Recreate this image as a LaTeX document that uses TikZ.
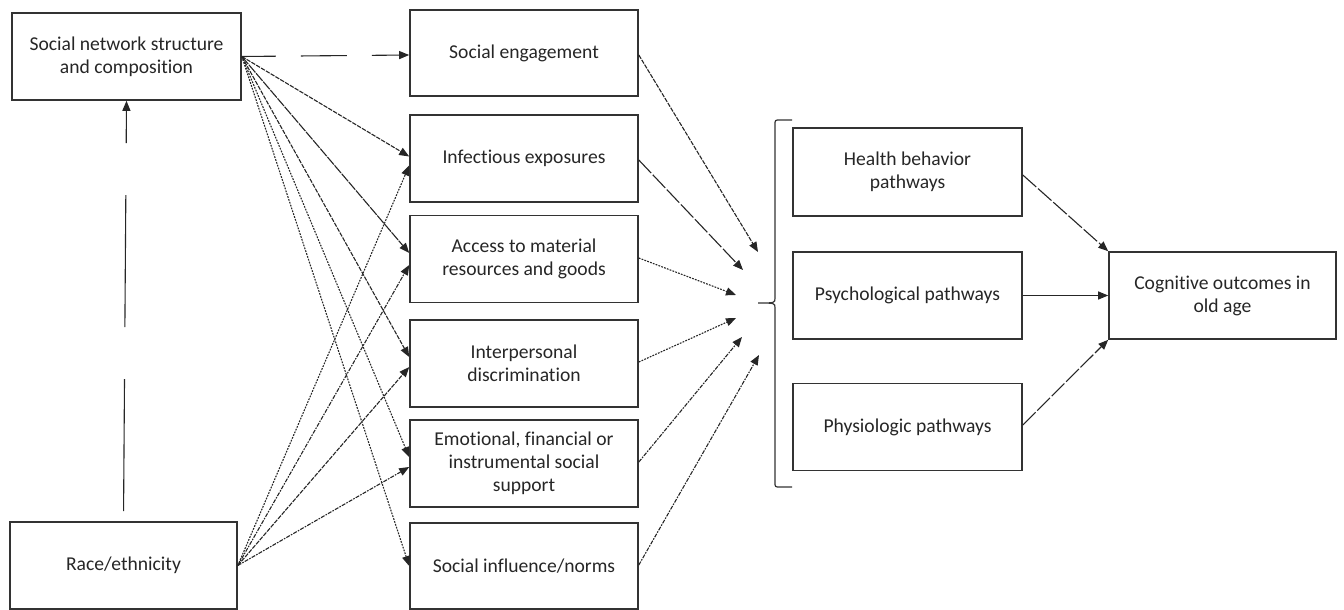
\documentclass[tikz,border=0pt]{standalone}
\usepackage{fontspec}
\setmainfont{Carlito}[Ligatures={NoCommon}]
\usetikzlibrary{arrows.meta,calc}
\begin{document}
\begin{tikzpicture}[x=0.5pt,y=-0.5pt,
  box/.style={draw=black!80,line width=0.8pt,minimum height=43.5pt,align=center,inner sep=2pt,
    font=\fontsize{9.8}{11.5}\selectfont,text=black!85},
  conn/.style={-{Triangle[length=5pt,width=4pt]},line width=0.55pt,draw=black!85},
  fdash/.style={dash pattern=on 2.2pt off 0.6pt},
  fdot/.style={dash pattern=on 0.9pt off 0.6pt},
  ddot/.style={dash pattern=on 2pt off 0.6pt on 0.8pt off 0.6pt},
  ldash/.style={dash pattern=on 9pt off 1.2pt},
]
\useasboundingbox (0,0) rectangle (1344,610);
% left
\node[box,minimum width=114.5pt] (sn) at (126.5,56.5) {Social network structure\\and composition};
\node[box,minimum width=113.5pt] (race) at (123.5,565.5) {Race/ethnicity};
% middle
\node[box,minimum width=114pt,minimum height=43pt] (se) at (524,53) {Social engagement};
\node[box,minimum width=114pt] (ie) at (524,158.5) {Infectious exposures};
\node[box,minimum width=114pt] (am) at (524,259) {Access to material\\resources and goods};
\node[box,minimum width=114pt] (id) at (524,363.5) {Interpersonal\\discrimination};
\node[box,minimum width=114pt] (em) at (524,463.5) {Emotional, financial or\\instrumental social\\support};
\node[box,minimum width=114pt,minimum height=43pt] (si) at (524,566) {Social influence/norms};
% right
\node[box,minimum width=114.5pt,minimum height=44pt] (hb) at (907.5,172) {Health behavior\\pathways};
\node[box,minimum width=114.5pt] (pp) at (907.5,295.5) {Psychological pathways};
\node[box,minimum width=114.5pt] (ph) at (907.5,427) {Physiologic pathways};
\node[box,minimum width=113.5pt] (cog) at (1222.5,295.5) {Cognitive outcomes in\\old age};

% brace
\coordinate (btip) at (758,303);
\draw[line width=0.6pt,black!80] (792,120) -- (780,120) .. controls (775,120) .. (775,125) -- (775,298)
  .. controls (775,303) .. (btip) .. controls (775,303) .. (775,308) -- (775,482)
  .. controls (775,487) .. (780,487) -- (792,487);

% left connectors
\draw[conn,dash pattern=on 66pt off 26pt,dash phase=87pt] (race.north) -- (sn.south);
\draw[conn,dash pattern=on 23pt off 12.5pt,dash phase=6pt] (sn.east) -- ($(se.west)+(0,2)$);
\draw[conn,fdash] (sn.east) -- ($(ie.west)+(0,-2)$);
\draw[conn,dash pattern=on 5pt off 0.5pt] (sn.east) -- ($(am.west)+(0,-6)$);
\draw[conn,fdash] (sn.east) -- ($(id.west)+(0,-6.5)$);
\draw[conn,fdot] (sn.east) -- ($(em.west)+(0,-6.5)$);
\draw[conn,fdot] (sn.east) -- ($(si.west)+(0,0)$);
\draw[conn,fdot] (race.east) -- ($(ie.west)+(0,7)$);
\draw[conn,ddot] (race.east) -- ($(am.west)+(0,6)$);
\draw[conn,fdash] (race.east) -- ($(id.west)+(0,3.5)$);
\draw[conn,ddot] (race.east) -- ($(em.west)+(0,3.5)$);

% middle to brace
\coordinate (t1) at (758,252);
\coordinate (t2) at (743,270);
\coordinate (t3) at (736,295);
\coordinate (t4) at (736,318);
\coordinate (t5) at (742,337);
\coordinate (t6) at (759,355);
\draw[conn,fdash] ($(se.east)+(0,2)$) -- (t1);
\draw[conn,ldash] ($(ie.east)+(0,1.5)$) -- (t2);
\draw[conn,fdot] ($(am.east)+(0,-1)$) -- (t3);
\draw[conn,fdot] ($(id.east)+(0,-1.5)$) -- (t4);
\draw[conn,ddot] ($(em.east)+(0,-1.5)$) -- (t5);
\draw[conn,ddot] ($(si.east)+(0,-1)$) -- (t6);

% right
\draw[conn,ldash] ($(hb.east)+(0,3)$) -- (cog.north west);
\draw[conn] (pp.east) -- (cog.west);
\draw[conn,ldash] ($(ph.east)+(0,-2)$) -- (cog.south west);
\end{tikzpicture}
\end{document}
